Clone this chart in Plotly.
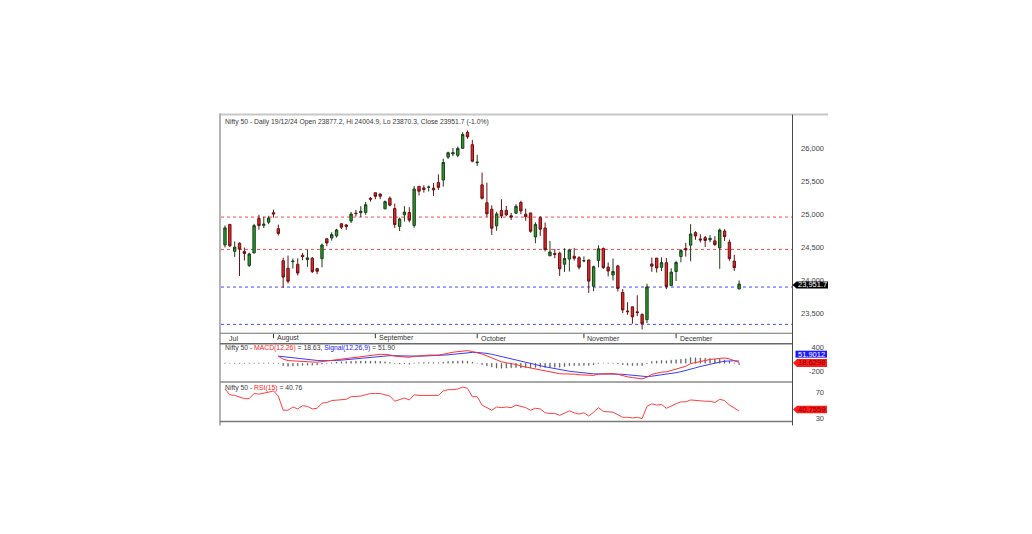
import plotly.graph_objects as go

# ---------------- data ----------------
dates = [
    "2024-07-18", "2024-07-19", "2024-07-22", "2024-07-23", "2024-07-24", "2024-07-25", "2024-07-26",
    "2024-07-29", "2024-07-30", "2024-07-31",
    "2024-08-01", "2024-08-02", "2024-08-05", "2024-08-06", "2024-08-07", "2024-08-08", "2024-08-09",
    "2024-08-12", "2024-08-13", "2024-08-14", "2024-08-16", "2024-08-19", "2024-08-20", "2024-08-21",
    "2024-08-22", "2024-08-23", "2024-08-26", "2024-08-27", "2024-08-28", "2024-08-29", "2024-08-30",
    "2024-09-02", "2024-09-03", "2024-09-04", "2024-09-05", "2024-09-06", "2024-09-09", "2024-09-10",
    "2024-09-11", "2024-09-12", "2024-09-13", "2024-09-16", "2024-09-17", "2024-09-18", "2024-09-19",
    "2024-09-20", "2024-09-23", "2024-09-24", "2024-09-25", "2024-09-26", "2024-09-27", "2024-09-30",
    "2024-10-01", "2024-10-03", "2024-10-04", "2024-10-07", "2024-10-08", "2024-10-09", "2024-10-10",
    "2024-10-11", "2024-10-14", "2024-10-15", "2024-10-16", "2024-10-17", "2024-10-18", "2024-10-21",
    "2024-10-22", "2024-10-23", "2024-10-24", "2024-10-25", "2024-10-28", "2024-10-29", "2024-10-30",
    "2024-10-31",
    "2024-11-01", "2024-11-04", "2024-11-05", "2024-11-06", "2024-11-07", "2024-11-08", "2024-11-11",
    "2024-11-12", "2024-11-13", "2024-11-14", "2024-11-18", "2024-11-19", "2024-11-21", "2024-11-22",
    "2024-11-25", "2024-11-26", "2024-11-27", "2024-11-28", "2024-11-29",
    "2024-12-02", "2024-12-03", "2024-12-04", "2024-12-05", "2024-12-06", "2024-12-09", "2024-12-10",
    "2024-12-11", "2024-12-12", "2024-12-13", "2024-12-16", "2024-12-17", "2024-12-18", "2024-12-19",
]

opens = [
    24543.3, 24853.8, 24445.8, 24568.9, 24445.0, 24231.0, 24423.4, 24943.3, 24839.4, 24886.7,
    25031.0, 24789.0, 24302.9, 24189.9, 24289.4, 24248.6, 24386.9, 24320.1, 24342.4, 24184.4,
    24334.9, 24636.4, 24648.9, 24680.6, 24863.4, 24845.4, 24906.1, 25024.8, 25030.8, 25035.3,
    25249.7, 25333.6, 25313.4, 25090.0, 25250.5, 25093.7, 24823.4, 24999.4, 25034.0, 24837.8,
    25430.5, 25406.7, 25416.9, 25402.4, 25487.1, 25526.0, 25872.6, 25921.5, 25899.5, 26005.4,
    26248.3, 26061.3, 25788.5, 25452.9, 25181.9, 25084.1, 24832.2, 25065.8, 25067.1, 24985.3,
    25023.5, 25186.3, 25008.6, 25027.4, 24665.0, 24956.2, 24798.7, 24378.2, 24412.7, 24418.1,
    24251.1, 24328.9, 24371.5, 24349.9, 24302.8, 24315.8, 23916.5, 24308.8, 24489.6, 24207.7,
    24087.3, 24225.8, 23822.5, 23542.2, 23605.3, 23529.6, 23488.5, 23411.8, 24253.6, 24343.3,
    24204.8, 24274.2, 23927.2, 24140.9, 24367.5, 24488.8, 24539.2, 24729.5, 24633.9, 24652.7,
    24620.5, 24604.5, 24498.4, 24753.4, 24584.8, 24298.0, 23877.2,
]
highs = [
    24837.8, 24854.8, 24595.2, 24582.6, 24504.3, 24426.2, 24861.2, 24999.8, 24971.8, 24984.6,
    25078.3, 24851.9, 24350.1, 24382.6, 24337.7, 24340.5, 24419.8, 24472.8, 24360.0, 24196.5,
    24563.9, 24638.8, 24734.3, 24788.0, 24867.4, 24858.4, 25043.8, 25073.1, 25129.6, 25192.9,
    25268.4, 25333.7, 25321.7, 25216.0, 25275.5, 25168.8, 24957.5, 25130.5, 25113.7, 25433.4,
    25430.5, 25445.7, 25441.7, 25482.2, 25612.0, 25849.3, 25956.0, 26011.6, 26032.8, 26250.9,
    26277.4, 26134.7, 25907.6, 25639.5, 25485.1, 25143.0, 25044.0, 25234.1, 25134.1, 25028.7,
    25159.8, 25212.1, 25093.4, 25029.5, 24886.2, 24978.3, 24882.0, 24604.3, 24480.7, 24440.3,
    24492.6, 24484.5, 24498.2, 24372.5, 24368.3, 24316.8, 24229.1, 24537.6, 24503.4, 24276.2,
    24336.8, 24242.0, 23873.6, 23675.9, 23606.8, 23780.7, 23507.3, 23956.1, 24351.6, 24343.3,
    24354.6, 24345.8, 24188.5, 24301.7, 24481.4, 24573.2, 24857.8, 24751.1, 24705.0, 24677.8,
    24691.8, 24675.3, 24792.3, 24781.3, 24624.1, 24394.5, 24004.9,
]
lows = [
    24504.5, 24508.2, 24362.3, 24074.2, 24307.3, 24210.8, 24410.9, 24774.6, 24798.7, 24856.5,
    24956.4, 24686.9, 23893.7, 23960.4, 24184.9, 24079.7, 24311.2, 24212.1, 24116.5, 24099.7,
    24204.5, 24523.0, 24607.2, 24654.5, 24784.5, 24771.7, 24874.7, 24973.7, 24964.7, 24998.5,
    25199.4, 25235.5, 25235.8, 25083.8, 25127.8, 24801.3, 24753.2, 24896.8, 24885.2, 24802.0,
    25292.5, 25336.2, 25352.3, 25285.6, 25376.1, 25426.6, 25847.4, 25886.9, 25871.4, 25998.4,
    26151.4, 25794.1, 25739.2, 25230.3, 24966.8, 24694.4, 24756.8, 24947.7, 24979.4, 24920.1,
    25017.5, 25008.2, 24908.5, 24728.9, 24567.7, 24679.6, 24445.8, 24378.1, 24341.2, 24073.9,
    24134.9, 24140.9, 24307.3, 24172.6, 24280.2, 23816.2, 23842.8, 24204.1, 24179.1, 24066.7,
    24004.6, 23839.2, 23509.6, 23484.2, 23350.4, 23464.8, 23263.2, 23359.0, 24135.5, 24125.4,
    24145.7, 23873.4, 23927.2, 23995.4, 24280.0, 24366.3, 24295.6, 24620.5, 24580.1, 24510.7,
    24583.9, 24528.0, 24180.8, 24601.8, 24303.5, 24149.9, 23870.3,
]
closes = [
    24800.9, 24530.9, 24509.3, 24479.1, 24413.5, 24406.1, 24834.9, 24836.1, 24857.3, 24951.2,
    25010.9, 24717.7, 24055.6, 23992.6, 24297.5, 24117.0, 24367.5, 24347.0, 24139.0, 24143.8,
    24541.2, 24572.7, 24698.9, 24770.2, 24811.5, 24823.2, 25010.6, 25017.8, 25052.4, 25152.0,
    25235.9, 25278.7, 25279.9, 25198.7, 25145.1, 24852.2, 24936.4, 25041.1, 24918.5, 25388.9,
    25356.5, 25383.8, 25418.6, 25377.6, 25415.8, 25791.0, 25939.1, 25940.4, 26004.2, 26216.1,
    26179.0, 25810.9, 25796.9, 25250.1, 25014.6, 24795.8, 25013.2, 24982.0, 24998.5, 24964.3,
    25128.0, 25057.4, 24971.3, 24749.9, 24854.1, 24781.1, 24472.1, 24435.5, 24399.4, 24180.8,
    24339.2, 24466.9, 24340.9, 24205.4, 24304.4, 23995.4, 24213.3, 24484.1, 24199.4, 24148.2,
    24141.3, 23883.5, 23559.1, 23532.7, 23453.8, 23518.5, 23349.9, 23907.3, 24221.9, 24194.5,
    24274.9, 23914.2, 24131.1, 24276.1, 24457.2, 24467.5, 24708.4, 24677.8, 24619.0, 24610.1,
    24641.8, 24548.7, 24768.3, 24668.3, 24336.0, 24198.9, 23951.7,
]

macd_line = [None] * 11 + [
    170, 100, 65, 55, 45, 45, 40, 30, 25, 40,
    55, 75, 95, 110, 125, 145, 160, 175, 190, 205,
    215, 220, 215, 205, 175, 160, 155, 145, 170, 185,
    195, 200, 200, 200, 220, 250, 270, 285, 305, 310,
    290, 265, 225, 180, 125, 70, 35, 10, -10, -30,
    -70, -95, -125, -140, -160, -195, -215, -235, -260, -265,
    -260, -270, -285, -290, -310, -300, -270, -265, -260, -255,
    -275, -310, -335, -355, -365, -385, -345, -275, -250, -220,
    -215, -180, -150, -110, -75, -10, 20, 50, 75, 92,
    105, 125, 130, 105, 70, 18.63,
]
signal_line = [None] * 11 + [
    175, 160, 140, 125, 110, 98, 88, 78, 68, 62,
    60, 62, 68, 76, 86, 98, 110, 123, 136, 150,
    163, 174, 182, 187, 185, 180, 175, 170, 170, 173,
    177, 181, 185, 188, 195, 206, 219, 232, 247, 260,
    266, 266, 258, 242, 221, 191, 160, 130, 102, 76,
    47, 19, -10, -36, -61, -88, -113, -137, -162, -183,
    -198, -212, -227, -240, -254, -263, -264, -264, -263, -261,
    -264, -273, -285, -299, -312, -327, -331, -320, -306, -289,
    -274, -255, -234, -209, -182, -148, -114, -81, -50, -22,
    3, 27, 48, 59, 61, 51.90,
]
macd_hist = [
    4, -3, -5, -6, -6, -5, 3, 4, 4, 5, 5,
    -5, -60, -75, -70, -65, -53, -48, -48, -43, -22,
    -5, 13, 27, 34, 39, 47, 50, 52, 54, 55,
    52, 46, 33, 18, -10, -20, -20, -25, 3, 12,
    18, 19, 15, 12, 25, 44, 51, 53, 58, 50,
    24, -1, -33, -62, -96, -121, -125, -120, -112, -106,
    -117, -114, -115, -104, -99, -107, -102, -98, -98, -82,
    -62, -58, -58, -50, -56, -37, -6, -1, 3, 6,
    -11, -37, -50, -56, -53, -58, -14, 45, 56, 69,
    59, 75, 84, 99, 107, 138, 134, 131, 125, 114,
    102, 98, 82, 46, 9, -33.27,
]
rsi_line = [
    75, 66, 65, 62, 60, 60, 68, 67, 68, 70,
    72, 64, 42, 42, 47, 44, 49, 48, 44, 45,
    53, 54, 57, 58, 59, 59, 63, 63, 64, 66,
    68, 68, 68, 66, 64, 56, 59, 61, 58, 66,
    65, 65, 66, 65, 65, 72, 74, 74, 75, 78,
    76, 63, 63, 50, 46, 42, 47, 46, 47, 46,
    50, 48, 46, 42, 45, 44, 38, 37, 37, 34,
    38, 41, 38, 36, 38, 33, 39, 46, 40, 39,
    39, 35, 31, 31, 30, 31, 29, 48, 52, 50,
    51, 45, 49, 52, 55, 55, 58, 57, 56, 56,
    56, 54, 59, 57, 50, 46, 40.76,
]

red_levels = [24965, 24475]
blue_levels = [23905, 23340]

price_ticks = [23500, 24000, 24500, 25000, 25500, 26000]
macd_ticks = [400, -200]
rsi_ticks = [70, 30]
month_names = ["Jul", "August", "September", "October", "November", "December"]

title_main = "Nifty 50 - Daily 19/12/24 Open 23877.2, Hi 24004.9, Lo 23870.3, Close 23951.7 (-1.0%)"
last_close_txt = "23,951.7"
last_signal_txt = "51.9012"
last_macd_txt = "18.6298"
last_rsi_txt = "40.7559"

# ---------------- layout helpers ----------------
W, H = 1032, 534
FONT = "Liberation Sans, Arial, sans-serif"


def px(x):
    return x / W


def py(y):
    return 1 - y / H


xi = list(range(len(dates)))
XR = [-0.82, 116.9]

fig = go.Figure()

fig.add_trace(go.Candlestick(
    x=xi, open=opens, high=highs, low=lows, close=closes,
    increasing=dict(line=dict(color="#1d3d1d", width=1), fillcolor="#23a023"),
    decreasing=dict(line=dict(color="#6a1212", width=1), fillcolor="#e02626"),
    whiskerwidth=0, showlegend=False, hoverinfo="skip", xaxis="x", yaxis="y",
))

fig.add_trace(go.Bar(
    x=xi, y=macd_hist, width=0.16,
    marker=dict(color="#505050", line=dict(color="#505050", width=0.35)),
    showlegend=False, hoverinfo="skip", xaxis="x2", yaxis="y2",
))
fig.add_trace(go.Scatter(
    x=xi, y=signal_line, mode="lines", line=dict(color="#3a3aff", width=1),
    showlegend=False, hoverinfo="skip", xaxis="x2", yaxis="y2",
))
fig.add_trace(go.Scatter(
    x=xi, y=macd_line, mode="lines", line=dict(color="#ff3030", width=1),
    showlegend=False, hoverinfo="skip", xaxis="x2", yaxis="y2",
))
fig.add_trace(go.Scatter(
    x=xi, y=rsi_line, mode="lines", line=dict(color="#ff4040", width=1),
    showlegend=False, hoverinfo="skip", xaxis="x3", yaxis="y3",
))

xdom = [px(221), px(792)]
xcommon = dict(domain=xdom, range=XR, showticklabels=False, showgrid=False,
               zeroline=False, showline=False, ticks="", fixedrange=True)
ycommon = dict(showgrid=False, zeroline=False, showline=False, ticks="",
               anchor="free", position=px(824), side="left",
               tickfont=dict(family=FONT, size=7.5, color="#444444"), fixedrange=True)

fig.update_layout(
    width=W, height=H,
    margin=dict(l=0, r=0, t=0, b=0),
    paper_bgcolor="white", plot_bgcolor="white",
    bargap=0,
    xaxis=dict(**xcommon, anchor="y", rangeslider=dict(visible=False)),
    xaxis2=dict(**xcommon, anchor="y2", matches="x"),
    xaxis3=dict(**xcommon, anchor="y3", matches="x"),
    yaxis=dict(**ycommon, domain=[py(333), py(116)], range=[23213, 26487],
               tickvals=price_ticks, ticktext=[f"{v:,}" for v in price_ticks]),
    yaxis2=dict(**ycommon, domain=[py(382), py(344)], range=[-453, 481],
                tickvals=macd_ticks, ticktext=[str(v) for v in macd_ticks]),
    yaxis3=dict(**ycommon, domain=[py(422), py(383)], range=[24.6, 85],
                tickvals=rsi_ticks, ticktext=[str(v) for v in rsi_ticks]),
    showlegend=False,
)

shapes = []
# level lines
for lv in red_levels:
    shapes.append(dict(type="line", xref="paper", yref="y", x0=px(221), x1=px(792), y0=lv, y1=lv,
                       line=dict(color="#ff4a4a", width=1, dash="dot"), layer="below"))
for lv in blue_levels:
    shapes.append(dict(type="line", xref="paper", yref="y", x0=px(221), x1=px(792), y0=lv, y1=lv,
                       line=dict(color="#4a4aff", width=1, dash="dot"), layer="below"))


# frame
def pline(x0, y0, x1, y1, color, width):
    shapes.append(dict(type="line", xref="paper", yref="paper", x0=px(x0), y0=py(y0),
                       x1=px(x1), y1=py(y1), line=dict(color=color, width=width), layer="above"))


pline(219, 114, 828, 114, "#c8c8c8", 2)
pline(220, 113, 220, 426, "#b4b4b4", 2)
pline(792.5, 114, 792.5, 426, "#4a4a4a", 1)
pline(220, 333.5, 792, 333.5, "#707070", 1)
pline(220, 344, 792, 344, "#6a6a6a", 1.5)
pline(220, 382.5, 792, 382.5, "#8a8a8a", 1.5)
pline(220, 422, 792, 422, "#7a7a7a", 1.5)

# month ticks + labels
annotations = []
prev_month = None
for i, d in enumerate(dates):
    m = int(d[5:7])
    if m != prev_month:
        name = month_names[m - 7]
        if prev_month is not None:
            shapes.append(dict(type="line", xref="x", yref="paper", x0=i, x1=i,
                               y0=py(334), y1=py(338.5), line=dict(color="#333333", width=1)))
            lx = i + 0.3
        else:
            lx = i + 0.4
        annotations.append(dict(x=lx, y=py(338.5), xref="x", yref="paper", text=name,
                                showarrow=False, xanchor="left", yanchor="middle",
                                font=dict(family=FONT, size=7, color="#333333")))
        prev_month = m


def arrow_box(xl, yc, h, xr, fill):
    t = yc - h / 2
    b = yc + h / 2
    path = (f"M {px(xl)},{py(yc)} L {px(xl + 4)},{py(t)} L {px(xr)},{py(t)} "
            f"L {px(xr)},{py(b)} L {px(xl + 4)},{py(b)} Z")
    shapes.append(dict(type="path", xref="paper", yref="paper", path=path,
                       fillcolor=fill, line=dict(width=0), layer="above"))


arrow_box(792.5, 285, 7, 828, "#000000")
arrow_box(793, 363.3, 8, 827, "#ff1a1a")
arrow_box(793, 410.0, 7.5, 827, "#ff1a1a")
shapes.append(dict(type="rect", xref="paper", yref="paper", x0=px(795.5), x1=px(827),
                   y0=py(358), y1=py(351), fillcolor="#1a1aff", line=dict(width=0), layer="above"))

boxfont = dict(family=FONT, size=7.5)
annotations += [
    dict(x=px(812), y=py(285), xref="paper", yref="paper", text=last_close_txt, showarrow=False,
         xanchor="center", yanchor="middle", font=dict(**boxfont, color="white")),
    dict(x=px(811.5), y=py(354.5), xref="paper", yref="paper", text=last_signal_txt, showarrow=False,
         xanchor="center", yanchor="middle", font=dict(**boxfont, color="white")),
    dict(x=px(811.5), y=py(363.3), xref="paper", yref="paper", text=last_macd_txt, showarrow=False,
         xanchor="center", yanchor="middle", font=dict(**boxfont, color="#7a0000")),
    dict(x=px(811.5), y=py(410.0), xref="paper", yref="paper", text=last_rsi_txt, showarrow=False,
         xanchor="center", yanchor="middle", font=dict(**boxfont, color="#7a0000")),
]

tfont = dict(family=FONT, size=6.8, color="#3a3a3a")
annotations += [
    dict(x=px(223), y=py(121), xref="paper", yref="paper", text=title_main, showarrow=False,
         xanchor="left", yanchor="middle", font=tfont),
    dict(x=px(223), y=py(348.5), xref="paper", yref="paper",
         text=("Nifty 50 - <span style='color:#ff2020'>MACD(12,26)</span> = 18.63, "
               "<span style='color:#2020ff'>Signal(12,26,9)</span> = 51.90"),
         showarrow=False, xanchor="left", yanchor="middle", font=tfont),
    dict(x=px(223), y=py(388), xref="paper", yref="paper",
         text="Nifty 50 - <span style='color:#ff2020'>RSI(15)</span> = 40.76",
         showarrow=False, xanchor="left", yanchor="middle", font=tfont),
]

fig.update_layout(shapes=shapes, annotations=annotations)

fig.write_html("out.html", config=dict(displayModeBar=False, staticPlot=True),
               post_script="document.body.style.margin='0';document.body.style.overflow='hidden';")
